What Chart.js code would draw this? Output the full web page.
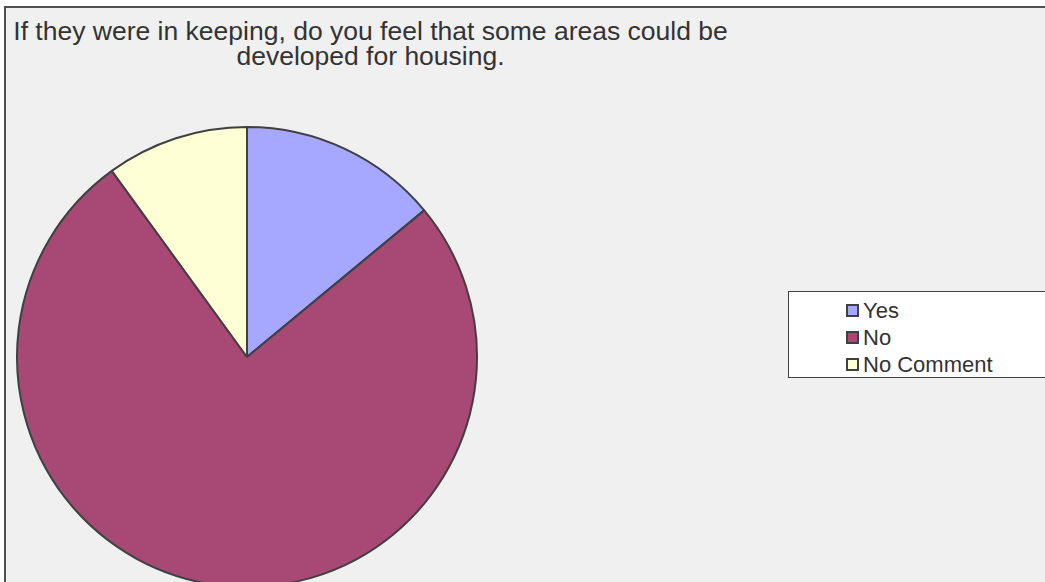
<!DOCTYPE html>
<html>
<head>
<meta charset="utf-8">
<script src="https://cdn.jsdelivr.net/npm/chart.js@4/dist/chart.umd.min.js"></script>
<style>
  html, body { margin: 0; padding: 0; width: 1045px; height: 582px; overflow: hidden; background: #ffffff; }
  #frame { position: absolute; left: 4px; top: 6px; width: 1100px; height: 700px;
           border: 2px solid #505050; background: #f0f0f0; }
  #title { position: absolute; left: 0px; top: 19px; width: 741px; text-align: center;
           font-family: "Liberation Sans", Arial, sans-serif; font-size: 26.5px; line-height: 25px; color: #333333; }
  #wrap { position: absolute; left: 14px; top: 124px; width: 466px; height: 466px; }
  #legend { position: absolute; left: 788px; top: 291px; width: 300px; height: 85px;
            border: 1px solid #404040; background: #ffffff;
            font-family: "Liberation Sans", Arial, sans-serif; font-size: 22px; color: #333333; }
  .item { position: absolute; left: 57px; height: 22px; line-height: 22px; white-space: nowrap; }
  .sw { position: absolute; left: 0; top: 5px; width: 9px; height: 9px; border: 2px solid #404040; }
  .lbl { position: absolute; left: 17px; top: 1px; }
</style>
</head>
<body>
<div id="frame"></div>
<div id="title">If they were in keeping, do you feel that some areas could be<br>developed for housing.</div>
<div id="wrap"><canvas id="c" width="466" height="466"></canvas></div>
<div id="legend"></div>
<script>
const categories = ["Yes", "No", "No Comment"];
const values = [14, 76, 10];
const colors = ["#a6a8ff", "#a84874", "#ffffd6"];

const legend = document.getElementById('legend');
categories.forEach((c, i) => {
  const it = document.createElement('div');
  it.className = 'item';
  it.style.top = (7 + i * 27) + 'px';
  it.innerHTML = '<span class="sw" style="background:' + colors[i] + '"></span><span class="lbl">' + c + '</span>';
  legend.appendChild(it);
});

new Chart(document.getElementById('c'), {
  type: 'pie',
  data: {
    labels: categories,
    datasets: [{
      data: values,
      backgroundColor: colors,
      borderColor: '#404040',
      borderWidth: 2,
      hoverOffset: 0,
      offset: 0
    }]
  },
  options: {
    responsive: false,
    animation: false,
    layout: { padding: 2 },
    plugins: { legend: { display: false }, title: { display: false }, tooltip: { enabled: false } }
  }
});
</script>
</body>
</html>
